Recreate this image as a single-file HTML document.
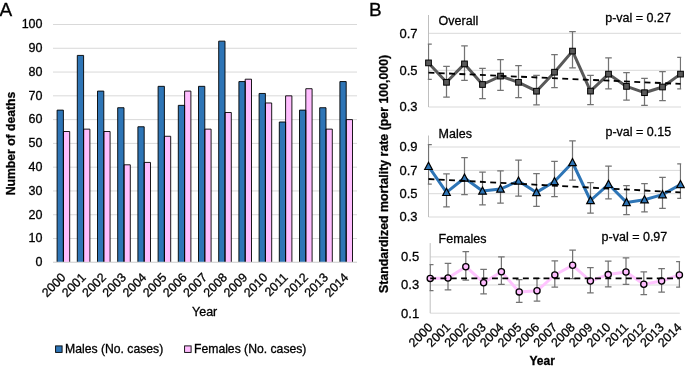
<!DOCTYPE html>
<html><head><meta charset="utf-8"><style>
html,body{margin:0;padding:0;background:#fff;width:685px;height:370px;overflow:hidden}
svg{display:block;will-change:transform}
text{font-family:"Liberation Sans",sans-serif;fill:#000;stroke:#000;stroke-width:0.3px}
</style></head><body>
<svg width="685" height="370" viewBox="0 0 685 370">
<text x="-0.5" y="15.9" font-size="19" font-family="Liberation Sans, sans-serif">A</text>
<line x1="53" y1="262.30" x2="357" y2="262.30" stroke="#D9D9D9" stroke-width="1"/>
<text x="42.5" y="266.10" font-size="12.5" text-anchor="end" font-family="Liberation Sans, sans-serif">0</text>
<line x1="53" y1="238.52" x2="357" y2="238.52" stroke="#D9D9D9" stroke-width="1"/>
<text x="42.5" y="242.32" font-size="12.5" text-anchor="end" font-family="Liberation Sans, sans-serif">10</text>
<line x1="53" y1="214.74" x2="357" y2="214.74" stroke="#D9D9D9" stroke-width="1"/>
<text x="42.5" y="218.54" font-size="12.5" text-anchor="end" font-family="Liberation Sans, sans-serif">20</text>
<line x1="53" y1="190.96" x2="357" y2="190.96" stroke="#D9D9D9" stroke-width="1"/>
<text x="42.5" y="194.76" font-size="12.5" text-anchor="end" font-family="Liberation Sans, sans-serif">30</text>
<line x1="53" y1="167.18" x2="357" y2="167.18" stroke="#D9D9D9" stroke-width="1"/>
<text x="42.5" y="170.98" font-size="12.5" text-anchor="end" font-family="Liberation Sans, sans-serif">40</text>
<line x1="53" y1="143.40" x2="357" y2="143.40" stroke="#D9D9D9" stroke-width="1"/>
<text x="42.5" y="147.20" font-size="12.5" text-anchor="end" font-family="Liberation Sans, sans-serif">50</text>
<line x1="53" y1="119.62" x2="357" y2="119.62" stroke="#D9D9D9" stroke-width="1"/>
<text x="42.5" y="123.42" font-size="12.5" text-anchor="end" font-family="Liberation Sans, sans-serif">60</text>
<line x1="53" y1="95.84" x2="357" y2="95.84" stroke="#D9D9D9" stroke-width="1"/>
<text x="42.5" y="99.64" font-size="12.5" text-anchor="end" font-family="Liberation Sans, sans-serif">70</text>
<line x1="53" y1="72.06" x2="357" y2="72.06" stroke="#D9D9D9" stroke-width="1"/>
<text x="42.5" y="75.86" font-size="12.5" text-anchor="end" font-family="Liberation Sans, sans-serif">80</text>
<line x1="53" y1="48.28" x2="357" y2="48.28" stroke="#D9D9D9" stroke-width="1"/>
<text x="42.5" y="52.08" font-size="12.5" text-anchor="end" font-family="Liberation Sans, sans-serif">90</text>
<line x1="53" y1="24.50" x2="357" y2="24.50" stroke="#D9D9D9" stroke-width="1"/>
<text x="42.5" y="28.30" font-size="12.5" text-anchor="end" font-family="Liberation Sans, sans-serif">100</text>
<path d="M57.10 262.30V110.11H63.40V262.30Z" fill="#2E75B6" stroke="none"/>
<path d="M63.40 262.30V131.51H69.70V262.30Z" fill="#FFBDFF" stroke="none"/>
<path d="M57.10 262.30V110.11H63.40V262.30" fill="none" stroke="#000" stroke-width="0.9"/>
<path d="M63.40 262.30V131.51H69.70V262.30" fill="none" stroke="#000" stroke-width="0.9"/>
<text transform="translate(66.40,278.20) rotate(-45)" font-size="12.4" text-anchor="end" font-family="Liberation Sans, sans-serif">2000</text>
<path d="M77.30 262.30V55.41H83.60V262.30Z" fill="#2E75B6" stroke="none"/>
<path d="M83.60 262.30V129.13H89.90V262.30Z" fill="#FFBDFF" stroke="none"/>
<path d="M77.30 262.30V55.41H83.60V262.30" fill="none" stroke="#000" stroke-width="0.9"/>
<path d="M83.60 262.30V129.13H89.90V262.30" fill="none" stroke="#000" stroke-width="0.9"/>
<text transform="translate(86.60,278.20) rotate(-45)" font-size="12.4" text-anchor="end" font-family="Liberation Sans, sans-serif">2001</text>
<path d="M97.50 262.30V91.08H103.80V262.30Z" fill="#2E75B6" stroke="none"/>
<path d="M103.80 262.30V131.51H110.10V262.30Z" fill="#FFBDFF" stroke="none"/>
<path d="M97.50 262.30V91.08H103.80V262.30" fill="none" stroke="#000" stroke-width="0.9"/>
<path d="M103.80 262.30V131.51H110.10V262.30" fill="none" stroke="#000" stroke-width="0.9"/>
<text transform="translate(106.80,278.20) rotate(-45)" font-size="12.4" text-anchor="end" font-family="Liberation Sans, sans-serif">2002</text>
<path d="M117.70 262.30V107.73H124.00V262.30Z" fill="#2E75B6" stroke="none"/>
<path d="M124.00 262.30V164.80H130.30V262.30Z" fill="#FFBDFF" stroke="none"/>
<path d="M117.70 262.30V107.73H124.00V262.30" fill="none" stroke="#000" stroke-width="0.9"/>
<path d="M124.00 262.30V164.80H130.30V262.30" fill="none" stroke="#000" stroke-width="0.9"/>
<text transform="translate(127.00,278.20) rotate(-45)" font-size="12.4" text-anchor="end" font-family="Liberation Sans, sans-serif">2003</text>
<path d="M137.90 262.30V126.75H144.20V262.30Z" fill="#2E75B6" stroke="none"/>
<path d="M144.20 262.30V162.42H150.50V262.30Z" fill="#FFBDFF" stroke="none"/>
<path d="M137.90 262.30V126.75H144.20V262.30" fill="none" stroke="#000" stroke-width="0.9"/>
<path d="M144.20 262.30V162.42H150.50V262.30" fill="none" stroke="#000" stroke-width="0.9"/>
<text transform="translate(147.20,278.20) rotate(-45)" font-size="12.4" text-anchor="end" font-family="Liberation Sans, sans-serif">2004</text>
<path d="M158.10 262.30V86.33H164.40V262.30Z" fill="#2E75B6" stroke="none"/>
<path d="M164.40 262.30V136.27H170.70V262.30Z" fill="#FFBDFF" stroke="none"/>
<path d="M158.10 262.30V86.33H164.40V262.30" fill="none" stroke="#000" stroke-width="0.9"/>
<path d="M164.40 262.30V136.27H170.70V262.30" fill="none" stroke="#000" stroke-width="0.9"/>
<text transform="translate(167.40,278.20) rotate(-45)" font-size="12.4" text-anchor="end" font-family="Liberation Sans, sans-serif">2005</text>
<path d="M178.30 262.30V105.35H184.60V262.30Z" fill="#2E75B6" stroke="none"/>
<path d="M184.60 262.30V91.08H190.90V262.30Z" fill="#FFBDFF" stroke="none"/>
<path d="M178.30 262.30V105.35H184.60V262.30" fill="none" stroke="#000" stroke-width="0.9"/>
<path d="M184.60 262.30V91.08H190.90V262.30" fill="none" stroke="#000" stroke-width="0.9"/>
<text transform="translate(187.60,278.20) rotate(-45)" font-size="12.4" text-anchor="end" font-family="Liberation Sans, sans-serif">2006</text>
<path d="M198.50 262.30V86.33H204.80V262.30Z" fill="#2E75B6" stroke="none"/>
<path d="M204.80 262.30V129.13H211.10V262.30Z" fill="#FFBDFF" stroke="none"/>
<path d="M198.50 262.30V86.33H204.80V262.30" fill="none" stroke="#000" stroke-width="0.9"/>
<path d="M204.80 262.30V129.13H211.10V262.30" fill="none" stroke="#000" stroke-width="0.9"/>
<text transform="translate(207.80,278.20) rotate(-45)" font-size="12.4" text-anchor="end" font-family="Liberation Sans, sans-serif">2007</text>
<path d="M218.70 262.30V41.15H225.00V262.30Z" fill="#2E75B6" stroke="none"/>
<path d="M225.00 262.30V112.49H231.30V262.30Z" fill="#FFBDFF" stroke="none"/>
<path d="M218.70 262.30V41.15H225.00V262.30" fill="none" stroke="#000" stroke-width="0.9"/>
<path d="M225.00 262.30V112.49H231.30V262.30" fill="none" stroke="#000" stroke-width="0.9"/>
<text transform="translate(228.00,278.20) rotate(-45)" font-size="12.4" text-anchor="end" font-family="Liberation Sans, sans-serif">2008</text>
<path d="M238.90 262.30V81.57H245.20V262.30Z" fill="#2E75B6" stroke="none"/>
<path d="M245.20 262.30V79.19H251.50V262.30Z" fill="#FFBDFF" stroke="none"/>
<path d="M238.90 262.30V81.57H245.20V262.30" fill="none" stroke="#000" stroke-width="0.9"/>
<path d="M245.20 262.30V79.19H251.50V262.30" fill="none" stroke="#000" stroke-width="0.9"/>
<text transform="translate(248.20,278.20) rotate(-45)" font-size="12.4" text-anchor="end" font-family="Liberation Sans, sans-serif">2009</text>
<path d="M259.10 262.30V93.46H265.40V262.30Z" fill="#2E75B6" stroke="none"/>
<path d="M265.40 262.30V102.97H271.70V262.30Z" fill="#FFBDFF" stroke="none"/>
<path d="M259.10 262.30V93.46H265.40V262.30" fill="none" stroke="#000" stroke-width="0.9"/>
<path d="M265.40 262.30V102.97H271.70V262.30" fill="none" stroke="#000" stroke-width="0.9"/>
<text transform="translate(268.40,278.20) rotate(-45)" font-size="12.4" text-anchor="end" font-family="Liberation Sans, sans-serif">2010</text>
<path d="M279.30 262.30V122.00H285.60V262.30Z" fill="#2E75B6" stroke="none"/>
<path d="M285.60 262.30V95.84H291.90V262.30Z" fill="#FFBDFF" stroke="none"/>
<path d="M279.30 262.30V122.00H285.60V262.30" fill="none" stroke="#000" stroke-width="0.9"/>
<path d="M285.60 262.30V95.84H291.90V262.30" fill="none" stroke="#000" stroke-width="0.9"/>
<text transform="translate(288.60,278.20) rotate(-45)" font-size="12.4" text-anchor="end" font-family="Liberation Sans, sans-serif">2011</text>
<path d="M299.50 262.30V110.11H305.80V262.30Z" fill="#2E75B6" stroke="none"/>
<path d="M305.80 262.30V88.71H312.10V262.30Z" fill="#FFBDFF" stroke="none"/>
<path d="M299.50 262.30V110.11H305.80V262.30" fill="none" stroke="#000" stroke-width="0.9"/>
<path d="M305.80 262.30V88.71H312.10V262.30" fill="none" stroke="#000" stroke-width="0.9"/>
<text transform="translate(308.80,278.20) rotate(-45)" font-size="12.4" text-anchor="end" font-family="Liberation Sans, sans-serif">2012</text>
<path d="M319.70 262.30V107.73H326.00V262.30Z" fill="#2E75B6" stroke="none"/>
<path d="M326.00 262.30V129.13H332.30V262.30Z" fill="#FFBDFF" stroke="none"/>
<path d="M319.70 262.30V107.73H326.00V262.30" fill="none" stroke="#000" stroke-width="0.9"/>
<path d="M326.00 262.30V129.13H332.30V262.30" fill="none" stroke="#000" stroke-width="0.9"/>
<text transform="translate(329.00,278.20) rotate(-45)" font-size="12.4" text-anchor="end" font-family="Liberation Sans, sans-serif">2013</text>
<path d="M339.90 262.30V81.57H346.20V262.30Z" fill="#2E75B6" stroke="none"/>
<path d="M346.20 262.30V119.62H352.50V262.30Z" fill="#FFBDFF" stroke="none"/>
<path d="M339.90 262.30V81.57H346.20V262.30" fill="none" stroke="#000" stroke-width="0.9"/>
<path d="M346.20 262.30V119.62H352.50V262.30" fill="none" stroke="#000" stroke-width="0.9"/>
<text transform="translate(349.20,278.20) rotate(-45)" font-size="12.4" text-anchor="end" font-family="Liberation Sans, sans-serif">2014</text>
<line x1="53" y1="262.30" x2="357" y2="262.30" stroke="#D9D9D9" stroke-width="1.2"/>
<text x="192" y="315.8" font-size="12.5" font-family="Liberation Sans, sans-serif">Year</text>
<rect x="55.6" y="345.9" width="6.5" height="6.5" fill="#2E75B6" stroke="#000" stroke-width="0.9"/>
<text x="65" y="353.1" font-size="12.2" font-family="Liberation Sans, sans-serif">Males (No. cases)</text>
<rect x="184.6" y="345.9" width="6.5" height="6.5" fill="#FFBDFF" stroke="#000" stroke-width="0.9"/>
<text x="194" y="353.1" font-size="12.2" font-family="Liberation Sans, sans-serif">Females (No. cases)</text>
<text x="369" y="15.9" font-size="19" font-family="Liberation Sans, sans-serif">B</text>
<text transform="translate(388.3,173.9) rotate(-90)" font-size="12.35" font-weight="bold" text-anchor="middle" font-family="Liberation Sans, sans-serif">Standardized mortality rate (per 100,000)</text>
<text transform="translate(14.6,143.5) rotate(-90)" font-size="12.2" font-weight="bold" text-anchor="middle" font-family="Liberation Sans, sans-serif">Number of deaths</text>
<text x="529.5" y="364.6" font-size="12" font-weight="bold" font-family="Liberation Sans, sans-serif">Year</text>
<line x1="428.5" y1="33.3" x2="681" y2="33.3" stroke="#D9D9D9" stroke-width="1"/>
<text x="417.5" y="37.60" font-size="13" text-anchor="end" font-family="Liberation Sans, sans-serif">0.7</text>
<line x1="428.5" y1="70.3" x2="681" y2="70.3" stroke="#D9D9D9" stroke-width="1"/>
<text x="417.5" y="74.60" font-size="13" text-anchor="end" font-family="Liberation Sans, sans-serif">0.5</text>
<line x1="428.5" y1="107.0" x2="681" y2="107.0" stroke="#D9D9D9" stroke-width="1"/>
<text x="417.5" y="111.30" font-size="13" text-anchor="end" font-family="Liberation Sans, sans-serif">0.3</text>
<line x1="428.5" y1="15" x2="428.5" y2="107.0" stroke="#BFBFBF" stroke-width="1"/>
<text x="438.6" y="25" font-size="12.5" font-family="Liberation Sans, sans-serif">Overall</text>
<text x="605.2" y="22" font-size="12.5" font-family="Liberation Sans, sans-serif">p-val = 0.27</text>
<clipPath id="c1"><rect x="427.80" y="0" width="253.40" height="370"/></clipPath>
<polyline points="428.50,62.9 446.50,82.3 464.50,63.9 482.50,84.5 500.50,76.1 518.50,82.3 536.50,91.2 554.50,72.2 572.50,51.1 590.50,91.1 608.50,74.1 626.50,86.4 644.50,92.7 662.50,87 680.50,74.1" fill="none" stroke="#595959" stroke-width="3" stroke-linejoin="round" clip-path="url(#c1)"/>
<g clip-path="url(#c1)" stroke="#737373" stroke-width="1.25">
<path d="M428.50 44.1V79.3M425.20 44.1H431.80M425.20 79.3H431.80" fill="none"/>
<path d="M446.50 66.3V97.2M443.20 66.3H449.80M443.20 97.2H449.80" fill="none"/>
<path d="M464.50 45.8V80.4M461.20 45.8H467.80M461.20 80.4H467.80" fill="none"/>
<path d="M482.50 68.3V98.5M479.20 68.3H485.80M479.20 98.5H485.80" fill="none"/>
<path d="M500.50 59.6V90.3M497.20 59.6H503.80M497.20 90.3H503.80" fill="none"/>
<path d="M518.50 65.5V97.7M515.20 65.5H521.80M515.20 97.7H521.80" fill="none"/>
<path d="M536.50 75.4V104.8M533.20 75.4H539.80M533.20 104.8H539.80" fill="none"/>
<path d="M554.50 54.6V87.5M551.20 54.6H557.80M551.20 87.5H557.80" fill="none"/>
<path d="M572.50 31.6V67.8M569.20 31.6H575.80M569.20 67.8H575.80" fill="none"/>
<path d="M590.50 75.4V104.6M587.20 75.4H593.80M587.20 104.6H593.80" fill="none"/>
<path d="M608.50 57.8V88.9M605.20 57.8H611.80M605.20 88.9H611.80" fill="none"/>
<path d="M626.50 72.6V100M623.20 72.6H629.80M623.20 100H629.80" fill="none"/>
<path d="M644.50 78.4V105.3M641.20 78.4H647.80M641.20 105.3H647.80" fill="none"/>
<path d="M662.50 71.6V100.6M659.20 71.6H665.80M659.20 100.6H665.80" fill="none"/>
<path d="M680.50 57.4V88.9M677.20 57.4H683.80M677.20 88.9H683.80" fill="none"/>
</g>
<rect x="425.65" y="60.05" width="5.7" height="5.7" fill="#595959" stroke="#000" stroke-width="1"/>
<rect x="443.65" y="79.45" width="5.7" height="5.7" fill="#595959" stroke="#000" stroke-width="1"/>
<rect x="461.65" y="61.05" width="5.7" height="5.7" fill="#595959" stroke="#000" stroke-width="1"/>
<rect x="479.65" y="81.65" width="5.7" height="5.7" fill="#595959" stroke="#000" stroke-width="1"/>
<rect x="497.65" y="73.25" width="5.7" height="5.7" fill="#595959" stroke="#000" stroke-width="1"/>
<rect x="515.65" y="79.45" width="5.7" height="5.7" fill="#595959" stroke="#000" stroke-width="1"/>
<rect x="533.65" y="88.35" width="5.7" height="5.7" fill="#595959" stroke="#000" stroke-width="1"/>
<rect x="551.65" y="69.35" width="5.7" height="5.7" fill="#595959" stroke="#000" stroke-width="1"/>
<rect x="569.65" y="48.25" width="5.7" height="5.7" fill="#595959" stroke="#000" stroke-width="1"/>
<rect x="587.65" y="88.25" width="5.7" height="5.7" fill="#595959" stroke="#000" stroke-width="1"/>
<rect x="605.65" y="71.25" width="5.7" height="5.7" fill="#595959" stroke="#000" stroke-width="1"/>
<rect x="623.65" y="83.55" width="5.7" height="5.7" fill="#595959" stroke="#000" stroke-width="1"/>
<rect x="641.65" y="89.85" width="5.7" height="5.7" fill="#595959" stroke="#000" stroke-width="1"/>
<rect x="659.65" y="84.15" width="5.7" height="5.7" fill="#595959" stroke="#000" stroke-width="1"/>
<rect x="677.65" y="71.25" width="5.7" height="5.7" fill="#595959" stroke="#000" stroke-width="1"/>
<line x1="428.5" y1="72.6" x2="680.50" y2="83.9" stroke="#000" stroke-width="1.8" stroke-dasharray="5.9,4.4" clip-path="url(#c1)"/>
<line x1="428.5" y1="147" x2="680" y2="147" stroke="#D9D9D9" stroke-width="1"/>
<text x="417.5" y="151.30" font-size="13" text-anchor="end" font-family="Liberation Sans, sans-serif">0.9</text>
<line x1="428.5" y1="170.4" x2="680" y2="170.4" stroke="#D9D9D9" stroke-width="1"/>
<text x="417.5" y="174.70" font-size="13" text-anchor="end" font-family="Liberation Sans, sans-serif">0.7</text>
<line x1="428.5" y1="193.7" x2="680" y2="193.7" stroke="#D9D9D9" stroke-width="1"/>
<text x="417.5" y="198.00" font-size="13" text-anchor="end" font-family="Liberation Sans, sans-serif">0.5</text>
<line x1="428.5" y1="217" x2="680" y2="217" stroke="#D9D9D9" stroke-width="1"/>
<text x="417.5" y="221.30" font-size="13" text-anchor="end" font-family="Liberation Sans, sans-serif">0.3</text>
<line x1="428.5" y1="135.5" x2="428.5" y2="217" stroke="#BFBFBF" stroke-width="1"/>
<text x="438.6" y="137.6" font-size="12.5" font-family="Liberation Sans, sans-serif">Males</text>
<text x="605.5" y="135.7" font-size="12.5" font-family="Liberation Sans, sans-serif">p-val = 0.15</text>
<clipPath id="c2"><rect x="427.80" y="0" width="253.40" height="370"/></clipPath>
<polyline points="428.50,166.3 446.50,192.3 464.50,178 482.50,191 500.50,189 518.50,181 536.50,192.4 554.50,181.5 572.50,162.5 590.50,200.5 608.50,184.3 626.50,202.4 644.50,199.7 662.50,194.6 680.50,184.5" fill="none" stroke="#2E75B6" stroke-width="3" stroke-linejoin="round" clip-path="url(#c2)"/>
<g clip-path="url(#c2)" stroke="#737373" stroke-width="1.25">
<path d="M428.50 144.6V184.2M425.20 144.6H431.80M425.20 184.2H431.80" fill="none"/>
<path d="M446.50 173.8V206.9M443.20 173.8H449.80M443.20 206.9H449.80" fill="none"/>
<path d="M464.50 157.7V194.5M461.20 157.7H467.80M461.20 194.5H467.80" fill="none"/>
<path d="M482.50 172.1V204.9M479.20 172.1H485.80M479.20 204.9H485.80" fill="none"/>
<path d="M500.50 170.9V203M497.20 170.9H503.80M497.20 203H503.80" fill="none"/>
<path d="M518.50 160.2V196.2M515.20 160.2H521.80M515.20 196.2H521.80" fill="none"/>
<path d="M536.50 173.6V206.4M533.20 173.6H539.80M533.20 206.4H539.80" fill="none"/>
<path d="M554.50 161.4V196.5M551.20 161.4H557.80M551.20 196.5H557.80" fill="none"/>
<path d="M572.50 140.8V180M569.20 140.8H575.80M569.20 180H575.80" fill="none"/>
<path d="M590.50 182.7V213.2M587.20 182.7H593.80M587.20 213.2H593.80" fill="none"/>
<path d="M608.50 166V198.9M605.20 166H611.80M605.20 198.9H611.80" fill="none"/>
<path d="M626.50 185.7V214.6M623.20 185.7H629.80M623.20 214.6H629.80" fill="none"/>
<path d="M644.50 183.5V211.9M641.20 183.5H647.80M641.20 211.9H647.80" fill="none"/>
<path d="M662.50 177.3V208.4M659.20 177.3H665.80M659.20 208.4H665.80" fill="none"/>
<path d="M680.50 163.8V198.4M677.20 163.8H683.80M677.20 198.4H683.80" fill="none"/>
</g>
<polygon points="428.50,162.30 432.30,169.50 424.70,169.50" fill="#2E75B6" stroke="#000" stroke-width="1.2" stroke-linejoin="miter"/>
<polygon points="446.50,188.30 450.30,195.50 442.70,195.50" fill="#2E75B6" stroke="#000" stroke-width="1.2" stroke-linejoin="miter"/>
<polygon points="464.50,174.00 468.30,181.20 460.70,181.20" fill="#2E75B6" stroke="#000" stroke-width="1.2" stroke-linejoin="miter"/>
<polygon points="482.50,187.00 486.30,194.20 478.70,194.20" fill="#2E75B6" stroke="#000" stroke-width="1.2" stroke-linejoin="miter"/>
<polygon points="500.50,185.00 504.30,192.20 496.70,192.20" fill="#2E75B6" stroke="#000" stroke-width="1.2" stroke-linejoin="miter"/>
<polygon points="518.50,177.00 522.30,184.20 514.70,184.20" fill="#2E75B6" stroke="#000" stroke-width="1.2" stroke-linejoin="miter"/>
<polygon points="536.50,188.40 540.30,195.60 532.70,195.60" fill="#2E75B6" stroke="#000" stroke-width="1.2" stroke-linejoin="miter"/>
<polygon points="554.50,177.50 558.30,184.70 550.70,184.70" fill="#2E75B6" stroke="#000" stroke-width="1.2" stroke-linejoin="miter"/>
<polygon points="572.50,158.50 576.30,165.70 568.70,165.70" fill="#2E75B6" stroke="#000" stroke-width="1.2" stroke-linejoin="miter"/>
<polygon points="590.50,196.50 594.30,203.70 586.70,203.70" fill="#2E75B6" stroke="#000" stroke-width="1.2" stroke-linejoin="miter"/>
<polygon points="608.50,180.30 612.30,187.50 604.70,187.50" fill="#2E75B6" stroke="#000" stroke-width="1.2" stroke-linejoin="miter"/>
<polygon points="626.50,198.40 630.30,205.60 622.70,205.60" fill="#2E75B6" stroke="#000" stroke-width="1.2" stroke-linejoin="miter"/>
<polygon points="644.50,195.70 648.30,202.90 640.70,202.90" fill="#2E75B6" stroke="#000" stroke-width="1.2" stroke-linejoin="miter"/>
<polygon points="662.50,190.60 666.30,197.80 658.70,197.80" fill="#2E75B6" stroke="#000" stroke-width="1.2" stroke-linejoin="miter"/>
<polygon points="680.50,180.50 684.30,187.70 676.70,187.70" fill="#2E75B6" stroke="#000" stroke-width="1.2" stroke-linejoin="miter"/>
<line x1="428.5" y1="179.0" x2="680.50" y2="192.4" stroke="#000" stroke-width="1.8" stroke-dasharray="5.9,4.4" clip-path="url(#c2)"/>
<line x1="430.2" y1="256.9" x2="679.8" y2="256.9" stroke="#D9D9D9" stroke-width="1"/>
<text x="419.2" y="261.20" font-size="13" text-anchor="end" font-family="Liberation Sans, sans-serif">0.5</text>
<line x1="430.2" y1="285" x2="679.8" y2="285" stroke="#D9D9D9" stroke-width="1"/>
<text x="419.2" y="289.30" font-size="13" text-anchor="end" font-family="Liberation Sans, sans-serif">0.3</text>
<line x1="430.2" y1="313.2" x2="679.8" y2="313.2" stroke="#D9D9D9" stroke-width="1"/>
<text x="419.2" y="317.50" font-size="13" text-anchor="end" font-family="Liberation Sans, sans-serif">0.1</text>
<line x1="430.2" y1="243.1" x2="430.2" y2="313.2" stroke="#BFBFBF" stroke-width="1"/>
<text x="438.6" y="242.7" font-size="12.5" font-family="Liberation Sans, sans-serif">Females</text>
<text x="601.6" y="240.8" font-size="12.5" font-family="Liberation Sans, sans-serif">p-val = 0.97</text>
<clipPath id="c3"><rect x="429.50" y="0" width="250.60" height="370"/></clipPath>
<polyline points="430.20,278.4 448.00,278 465.80,266.7 483.60,282.7 501.40,271.8 519.20,291.9 537.00,290.8 554.80,275 572.60,265.3 590.40,281 608.20,274.6 626.00,272 643.80,284.3 661.60,281 679.40,275" fill="none" stroke="#FFC4FF" stroke-width="3" stroke-linejoin="round" clip-path="url(#c3)"/>
<g clip-path="url(#c3)" stroke="#737373" stroke-width="1.25">
<path d="M430.20 264.6V290.5M426.90 264.6H433.50M426.90 290.5H433.50" fill="none"/>
<path d="M448.00 263.3V289.9M444.70 263.3H451.30M444.70 289.9H451.30" fill="none"/>
<path d="M465.80 251.6V280.1M462.50 251.6H469.10M462.50 280.1H469.10" fill="none"/>
<path d="M483.60 269.3V293.8M480.30 269.3H486.90M480.30 293.8H486.90" fill="none"/>
<path d="M501.40 256.9V284.4M498.10 256.9H504.70M498.10 284.4H504.70" fill="none"/>
<path d="M519.20 279.6V302.3M515.90 279.6H522.50M515.90 302.3H522.50" fill="none"/>
<path d="M537.00 278.3V301M533.70 278.3H540.30M533.70 301H540.30" fill="none"/>
<path d="M554.80 260.8V287.2M551.50 260.8H558.10M551.50 287.2H558.10" fill="none"/>
<path d="M572.60 250.2V278.5M569.30 250.2H575.90M569.30 278.5H575.90" fill="none"/>
<path d="M590.40 267.7V292.9M587.10 267.7H593.70M587.10 292.9H593.70" fill="none"/>
<path d="M608.20 261.2V286.9M604.90 261.2H611.50M604.90 286.9H611.50" fill="none"/>
<path d="M626.00 257.9V284.3M622.70 257.9H629.30M622.70 284.3H629.30" fill="none"/>
<path d="M643.80 271.8V294.7M640.50 271.8H647.10M640.50 294.7H647.10" fill="none"/>
<path d="M661.60 268.5V292.1M658.30 268.5H664.90M658.30 292.1H664.90" fill="none"/>
<path d="M679.40 261.6V287.1M676.10 261.6H682.70M676.10 287.1H682.70" fill="none"/>
</g>
<circle cx="430.20" cy="278.4" r="3.1" fill="#FFBDFF" stroke="#000" stroke-width="1.3"/>
<circle cx="448.00" cy="278" r="3.1" fill="#FFBDFF" stroke="#000" stroke-width="1.3"/>
<circle cx="465.80" cy="266.7" r="3.1" fill="#FFBDFF" stroke="#000" stroke-width="1.3"/>
<circle cx="483.60" cy="282.7" r="3.1" fill="#FFBDFF" stroke="#000" stroke-width="1.3"/>
<circle cx="501.40" cy="271.8" r="3.1" fill="#FFBDFF" stroke="#000" stroke-width="1.3"/>
<circle cx="519.20" cy="291.9" r="3.1" fill="#FFBDFF" stroke="#000" stroke-width="1.3"/>
<circle cx="537.00" cy="290.8" r="3.1" fill="#FFBDFF" stroke="#000" stroke-width="1.3"/>
<circle cx="554.80" cy="275" r="3.1" fill="#FFBDFF" stroke="#000" stroke-width="1.3"/>
<circle cx="572.60" cy="265.3" r="3.1" fill="#FFBDFF" stroke="#000" stroke-width="1.3"/>
<circle cx="590.40" cy="281" r="3.1" fill="#FFBDFF" stroke="#000" stroke-width="1.3"/>
<circle cx="608.20" cy="274.6" r="3.1" fill="#FFBDFF" stroke="#000" stroke-width="1.3"/>
<circle cx="626.00" cy="272" r="3.1" fill="#FFBDFF" stroke="#000" stroke-width="1.3"/>
<circle cx="643.80" cy="284.3" r="3.1" fill="#FFBDFF" stroke="#000" stroke-width="1.3"/>
<circle cx="661.60" cy="281" r="3.1" fill="#FFBDFF" stroke="#000" stroke-width="1.3"/>
<circle cx="679.40" cy="275" r="3.1" fill="#FFBDFF" stroke="#000" stroke-width="1.3"/>
<line x1="430.2" y1="278.3" x2="679.40" y2="278.3" stroke="#000" stroke-width="1.8" stroke-dasharray="5.9,4.4" clip-path="url(#c3)"/>
<text transform="translate(433.30,328.20) rotate(-45)" font-size="12.4" text-anchor="end" font-family="Liberation Sans, sans-serif">2000</text>
<text transform="translate(451.10,328.20) rotate(-45)" font-size="12.4" text-anchor="end" font-family="Liberation Sans, sans-serif">2001</text>
<text transform="translate(468.90,328.20) rotate(-45)" font-size="12.4" text-anchor="end" font-family="Liberation Sans, sans-serif">2002</text>
<text transform="translate(486.70,328.20) rotate(-45)" font-size="12.4" text-anchor="end" font-family="Liberation Sans, sans-serif">2003</text>
<text transform="translate(504.50,328.20) rotate(-45)" font-size="12.4" text-anchor="end" font-family="Liberation Sans, sans-serif">2004</text>
<text transform="translate(522.30,328.20) rotate(-45)" font-size="12.4" text-anchor="end" font-family="Liberation Sans, sans-serif">2005</text>
<text transform="translate(540.10,328.20) rotate(-45)" font-size="12.4" text-anchor="end" font-family="Liberation Sans, sans-serif">2006</text>
<text transform="translate(557.90,328.20) rotate(-45)" font-size="12.4" text-anchor="end" font-family="Liberation Sans, sans-serif">2007</text>
<text transform="translate(575.70,328.20) rotate(-45)" font-size="12.4" text-anchor="end" font-family="Liberation Sans, sans-serif">2008</text>
<text transform="translate(593.50,328.20) rotate(-45)" font-size="12.4" text-anchor="end" font-family="Liberation Sans, sans-serif">2009</text>
<text transform="translate(611.30,328.20) rotate(-45)" font-size="12.4" text-anchor="end" font-family="Liberation Sans, sans-serif">2010</text>
<text transform="translate(629.10,328.20) rotate(-45)" font-size="12.4" text-anchor="end" font-family="Liberation Sans, sans-serif">2011</text>
<text transform="translate(646.90,328.20) rotate(-45)" font-size="12.4" text-anchor="end" font-family="Liberation Sans, sans-serif">2012</text>
<text transform="translate(664.70,328.20) rotate(-45)" font-size="12.4" text-anchor="end" font-family="Liberation Sans, sans-serif">2013</text>
<text transform="translate(682.50,328.20) rotate(-45)" font-size="12.4" text-anchor="end" font-family="Liberation Sans, sans-serif">2014</text>
</svg>
</body></html>
